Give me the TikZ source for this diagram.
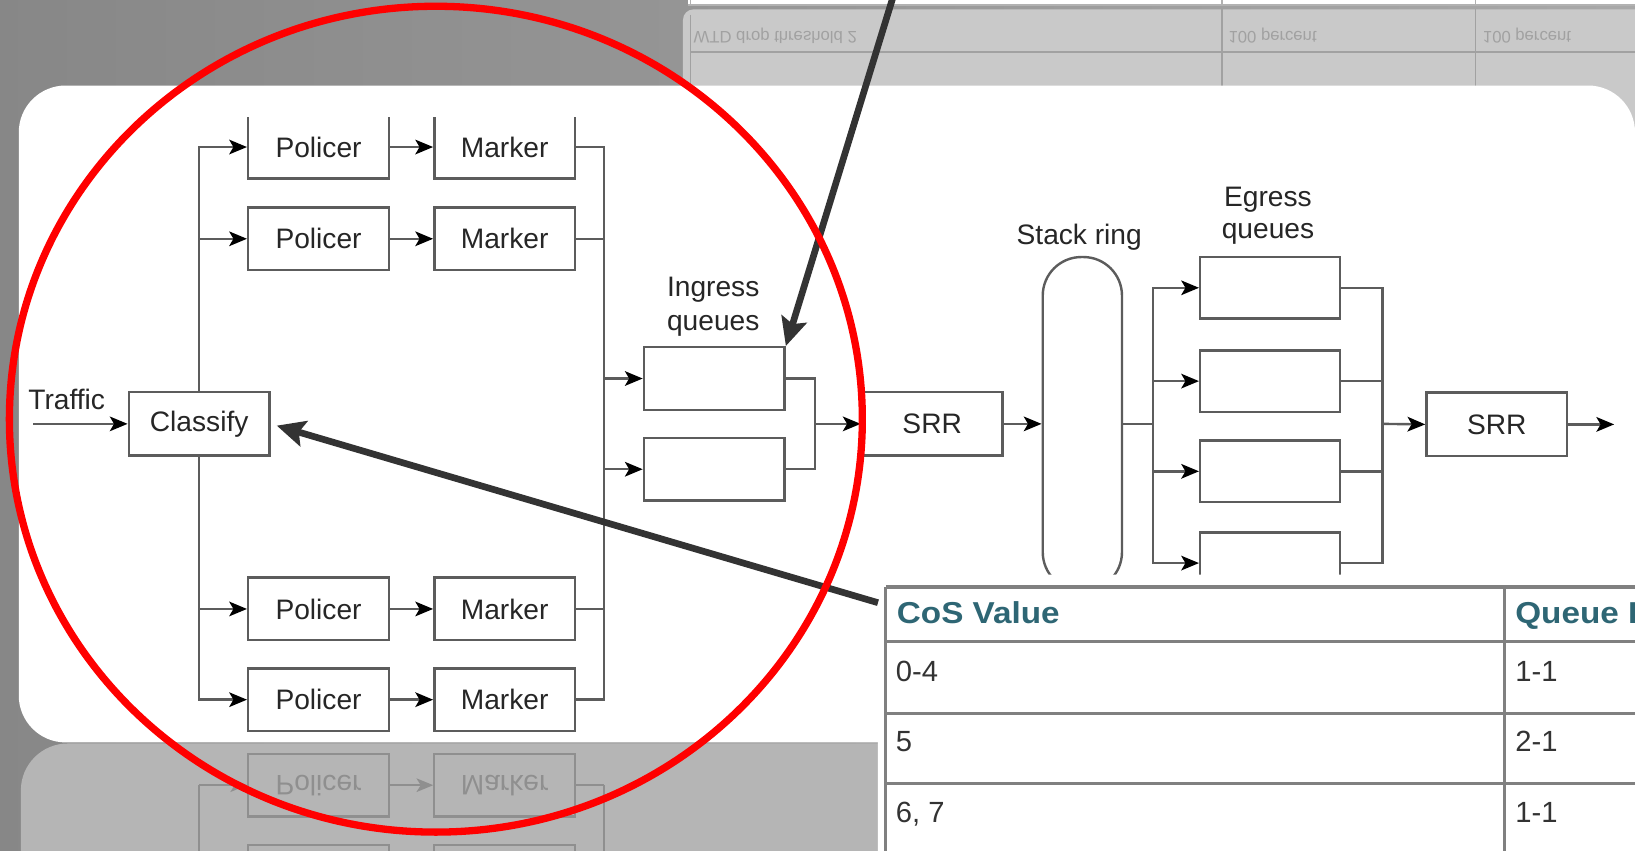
\documentclass[tikz,border=0pt]{standalone}
\usepackage{fontspec}
\setmainfont{Liberation Sans}
\newfontfamily\hdrfont[FakeStretch=1.1]{Liberation Sans}
\usetikzlibrary{arrows.meta}
\definecolor{bgL}{gray}{0.53}
\definecolor{bgR}{gray}{0.66}
\definecolor{reflTop}{gray}{0.79}
\definecolor{reflBot}{gray}{0.71}
\definecolor{reflInk}{gray}{0.56}
\definecolor{reflInkT}{gray}{0.63}
\definecolor{ln}{gray}{0.36}
\definecolor{hdrteal}{RGB}{46,102,116}
\definecolor{cellink}{gray}{0.2}
\definecolor{darkarrow}{gray}{0.2}
\definecolor{tblline}{gray}{0.5}
\definecolor{circred}{RGB}{255,0,0}
\begin{document}
\begin{tikzpicture}[x=1pt,y=-1pt,
  diag/.style={line width=2.3pt, draw=ln},
  box/.style={diag, minimum width=135pt, minimum height=60pt, inner sep=0pt,
    font=\fontsize{27}{32}\selectfont, text=black!85},
  lbl/.style={font=\fontsize{27}{32}\selectfont, inner sep=0pt, text=black!85},
  wire/.style={diag},
  flow/.style={diag, -{Stealth[length=17pt,width=14pt,inset=4pt,color=black]}},
  rbox/.style={line width=2pt, draw=reflInk, minimum width=135pt, minimum height=60pt, inner sep=0pt,
    font=\fontsize{27}{32}\selectfont, text=reflInk, yscale=-1},
  rwire/.style={line width=2pt, draw=reflInk},
  rflow/.style={rwire, -{Stealth[length=16pt,width=13pt,inset=4pt,color=reflInk]}},
  rtext/.style={font=\fontsize{16}{18}\selectfont, text=reflInkT, inner sep=0pt, yscale=-1},
  cell/.style={font=\fontsize{28}{30}\selectfont, text=cellink, inner sep=0pt},
  hdr/.style={font=\hdrfont\bfseries\fontsize{29}{31}\selectfont, text=hdrteal, inner sep=0pt},
  callout/.style={draw=darkarrow, line width=6.4pt,
    -{Stealth[length=27pt,width=25pt,inset=5pt,color=darkarrow]}},
]
\useasboundingbox (0,0) rectangle (1568,816);
\clip (0,0) rectangle (1568,816);

% background
\shade[left color=bgL, right color=bgR] (0,0) rectangle (1568,816);

% reflected table at top
\fill[reflTop, rounded corners=10pt] (655,9) rectangle (1700,200);
\draw[reflInkT, line width=1.5pt] (662,14) -- (662,90);
\draw[reflInkT, line width=1.5pt] (662,50) -- (1600,50);
\draw[reflInkT, line width=1.5pt] (1172,9) -- (1172,90);
\draw[reflInkT, line width=1.5pt] (1415,9) -- (1415,90);
\node[rtext, anchor=west] (rt1) at (665,34) {WTD drop threshold 2};
\node[rtext, anchor=west] (rt2) at (1178,34) {100 percent};
\node[rtext, anchor=west] (rt3) at (1422,34) {100 percent};

% table strip at top
\fill[white] (660,-2) rectangle (1600,4);
\draw[gray!60, line width=2.2pt] (660,5) -- (1600,5);
\draw[gray!60, line width=1.5pt] (662,-2) -- (662,5);
\draw[gray!60, line width=1.5pt] (1172,-2) -- (1172,5);
\draw[gray!60, line width=1.5pt] (1415,-2) -- (1415,5);

% reflection of the panel below
\begin{scope}
\clip[rounded corners=45pt] (20,713) rectangle (1700,1000);
\fill[reflBot] (0,700) rectangle (1700,900);
\node[rbox] (rp4) at (305.5,753) {Policer};
\node[rbox] (rm4) at (484,753) {Marker};
\node[rbox] (rp3) at (305.5,840) {};
\node[rbox] (rm3) at (484,840) {};
\foreach \i/\y in {4/753,3/840} {
  \coordinate (rl\i) at (191,\y);
  \coordinate (rr\i) at (579.5,\y);
  \draw[rflow] (rl\i) -- (rp\i.west);
  \draw[rflow] (rp\i.east) -- (rm\i.west);
  \draw[rwire] (rm\i.east) -- (rr\i);
}
\coordinate (rlb) at (191,900);
\coordinate (rrb) at (579.5,900);
\draw[rwire] (rl4) -- (rlb);
\draw[rwire] (rr4) -- (rrb);
\end{scope}

% white panel
\fill[white, rounded corners=45pt] (18,82) rectangle (1568,712);

% diagram
\begin{scope}
\clip (18,113) rectangle (1568,712);
\node[box, minimum height=61pt] (cls) at (191,406.5) {Classify};
\node[lbl, anchor=base west] (trf) at (27,393) {Traffic};
\coordinate (tin) at (32,406.5);
\draw[flow] (tin) -- (cls.west);
\foreach \i/\y in {1/141,2/229,3/584,4/671} {
  \node[box] (pol\i) at (305.5,\y) {Policer};
  \node[box] (mar\i) at (484,\y) {Marker};
  \draw[flow] (pol\i.east) -- (mar\i.west);
}
\coordinate (jl2) at (191,229);
\coordinate (jl3) at (191,584);
\draw[flow] (cls.north) |- (pol1.west);
\draw[flow] (cls.south) |- (pol4.west);
\draw[flow] (jl2) -- (pol2.west);
\draw[flow] (jl3) -- (pol3.west);
\coordinate (jr4) at (579.5,671);
\coordinate (jr2) at (579.5,229);
\coordinate (jr3) at (579.5,584);
\draw[wire] (mar1.east) -| (jr4) -- (mar4.east);
\draw[wire] (mar2.east) -- (jr2);
\draw[wire] (mar3.east) -- (jr3);
% ingress queues
\node[box] (q1) at (685,363) {};
\node[box] (q2) at (685,450) {};
\node[lbl, anchor=base] (inl1) at (684,284.5) {Ingress};
\node[lbl, anchor=base] (inl2) at (684,316.5) {queues};
\coordinate (jq1) at (579.5,363);
\coordinate (jq2) at (579.5,450);
\draw[flow] (jq1) -- (q1.west);
\draw[flow] (jq2) -- (q2.west);
\coordinate (jiq) at (781.5,406.5);
\draw[wire] (q1.east) -| (jiq);
\draw[wire] (q2.east) -| (jiq);
\node[box, minimum height=61pt] (srr1) at (894,406.5) {SRR};
\draw[flow] (jiq) -- (srr1.west);
% stack ring
\node[diag, minimum width=76pt, minimum height=320pt, rounded corners=37pt, inner sep=0pt] (ring) at (1038,406.5) {};
\node[lbl, anchor=base] (ringl) at (1035,234) {Stack ring};
\draw[flow] (srr1.east) -- (ring.west);
\coordinate (je) at (1105.5,406.5);
\draw[wire] (ring.east) -- (je);
% egress queues
\foreach \i/\y in {1/276,2/365.5,3/452,4/540} {
  \node[box, minimum width=134pt, minimum height=59pt] (e\i) at (1218,\y) {};
}
\node[lbl, anchor=base] (egl1) at (1216,198.5) {Egress};
\node[lbl, anchor=base] (egl2) at (1216,229) {queues};
\draw[flow] (je) |- (e1.west);
\draw[flow] (je) |- (e4.west);
\coordinate (je2) at (1105.5,365.5);
\coordinate (je3) at (1105.5,452);
\draw[flow] (je2) -- (e2.west);
\draw[flow] (je3) -- (e3.west);
\coordinate (jo) at (1326,406.5);
\draw[wire] (e1.east) -| (jo);
\draw[wire] (e4.east) -| (jo);
\draw[wire] (e2.east) -- (e2.east -| jo);
\draw[wire] (e3.east) -- (e3.east -| jo);
\node[box, minimum height=61pt] (srr2) at (1435.5,407) {SRR};
\draw[flow] (jo) -- (srr2.west);
\coordinate (out) at (1548,407);
\draw[flow] (srr2.east) -- (out);
\end{scope}

% table panel
\fill[white, rounded corners=14pt] (842,551) rectangle (1640,880);
\draw[tblline, line width=3pt] (849.5,563) -- (1640,563);
\draw[tblline, line width=3pt] (849.5,563) -- (849.5,880);
\draw[tblline, line width=3pt] (849.5,615.5) -- (1640,615.5);
\draw[tblline, line width=3pt] (849.5,684) -- (1640,684);
\draw[tblline, line width=3pt] (849.5,751) -- (1640,751);
\draw[tblline, line width=3pt] (1443,563) -- (1443,880);
\node[hdr, anchor=base west] (h1) at (860,597.5) {CoS Value};
\node[hdr, anchor=base west] (h2) at (1453,597.5) {Queue I};
\node[cell, anchor=base west] (c11) at (859,654) {0-4};
\node[cell, anchor=base west] (c12) at (1453,654) {1-1};
\node[cell, anchor=base west] (c21) at (859,721) {5};
\node[cell, anchor=base west] (c22) at (1453,721) {2-1};
\node[cell, anchor=base west] (c31) at (859,789) {6, 7};
\node[cell, anchor=base west] (c32) at (1453,789) {1-1};

% callout arrows
\coordinate (a1s) at (858,-8);
\coordinate (a2s) at (842,578);
\draw[callout] (a1s) -- (q1.north east);
\draw[callout, shorten >=6pt] (a2s) -- (cls.east);

% red circle
\draw[circred, line width=7pt] (418,402) ellipse [x radius=409pt, y radius=396pt];
\end{tikzpicture}
\end{document}
